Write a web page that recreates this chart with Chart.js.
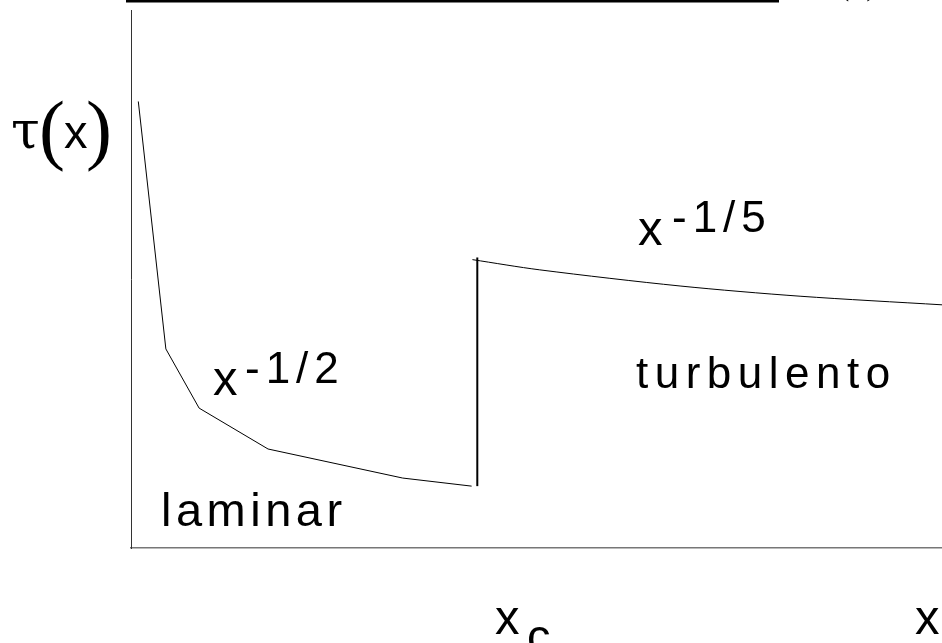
<!DOCTYPE html>
<html>
<head>
<meta charset="utf-8">
<script src="https://cdn.jsdelivr.net/npm/chart.js@4/dist/chart.umd.min.js"></script>
<style>
  html, body { margin: 0; padding: 0; background: #fff; }
  canvas { display: block; }
</style>
</head>
<body>
<canvas id="c" width="942" height="643"></canvas>
<script>
// Values (arbitrary units, x: 0..10, y: 0..10)
const laminarX = [0.09, 0.43, 0.84, 1.69, 3.35, 4.20];
const laminarY = [8.30, 3.70, 2.60, 1.84, 1.30, 1.15];
const jumpX = [4.27, 4.27];
const jumpY = [1.15, 5.40];
const turbulentX = [4.21, 5.04, 6.77, 8.25, 10.0];
const turbulentY = [5.36, 5.17, 4.87, 4.68, 4.52];
const axisMin = 0, axisMax = 10;

const toPts = (xs, ys) => xs.map((x, i) => ({ x: x, y: ys[i] }));

const SANS = '"Liberation Sans", Arial, sans-serif';
const SERIF = '"DejaVu Serif", "Liberation Serif", serif';
const SERIF2 = '"Liberation Serif", "Times New Roman", serif';

function txt(ctx, s, x, y, size, family, spacing) {
  ctx.font = size + 'px ' + family;
  ctx.letterSpacing = (spacing || 0) + 'px';
  ctx.fillText(s, x, y);
  ctx.letterSpacing = '0px';
}

const annotations = {
  id: 'annotations',
  afterDraw(chart) {
    const ctx = chart.ctx;
    ctx.save();
    ctx.fillStyle = '#000';
    ctx.textBaseline = 'alphabetic';
    ctx.textAlign = 'left';
    // cropped title line at the very top
    ctx.fillRect(126, 0, 653, 2.5);
    txt(ctx, '(', 835, -8, 44, SERIF2);
    txt(ctx, ')', 866, -8, 44, SERIF2);
    // y axis label tau(x)
    txt(ctx, 'τ', 11, 148, 52, SERIF);
    txt(ctx, '(', 39, 155, 78, SERIF2);
    txt(ctx, 'x', 64, 148, 47, SANS);
    txt(ctx, ')', 86, 155, 78, SERIF2);
    // x^-1/2
    txt(ctx, 'x', 213, 395, 49, SANS);
    txt(ctx, '-1/2', 245, 383, 44, SANS, 6);
    // x^-1/5
    txt(ctx, 'x', 638, 245, 49, SANS);
    txt(ctx, '-1/5', 672, 232, 44, SANS, 6);
    // region labels
    txt(ctx, 'turbulento', 636, 388, 44, SANS, 6.5);
    txt(ctx, 'laminar', 161, 526, 47, SANS, 4.5);
    // x-axis labels
    txt(ctx, 'x', 495, 634, 49, SANS);
    txt(ctx, 'c', 527, 652, 47, SANS);
    txt(ctx, 'x', 915, 634, 49, SANS);
    ctx.restore();
  }
};

new Chart(document.getElementById('c'), {
  type: 'line',
  data: {
    datasets: [
      { label: 'laminar', data: toPts(laminarX, laminarY), borderColor: '#000', borderWidth: 1, pointRadius: 0, tension: 0, fill: false },
      { label: 'salto', data: toPts(jumpX, jumpY), borderColor: '#000', borderWidth: 2, pointRadius: 0, tension: 0, fill: false },
      { label: 'turbulento', data: toPts(turbulentX, turbulentY), borderColor: '#000', borderWidth: 1, pointRadius: 0, tension: 0.3, fill: false }
    ]
  },
  options: {
    responsive: false,
    animation: false,
    devicePixelRatio: 1,
    layout: { padding: { left: 131, right: 0, top: 10, bottom: 95 } },
    plugins: { legend: { display: false }, tooltip: { enabled: false }, title: { display: false } },
    scales: {
      x: {
        type: 'linear', min: axisMin, max: axisMax,
        ticks: { display: false },
        grid: { display: false, drawTicks: false },
        border: { display: true, color: '#777', width: 1.5 },
        afterFit(s) { s.height = 0; }
      },
      y: {
        type: 'linear', min: axisMin, max: axisMax,
        ticks: { display: false },
        grid: { display: false, drawTicks: false },
        border: { display: true, color: '#333', width: 1 },
        afterFit(s) { s.width = 0; }
      }
    }
  },
  plugins: [annotations]
});
</script>
</body>
</html>
